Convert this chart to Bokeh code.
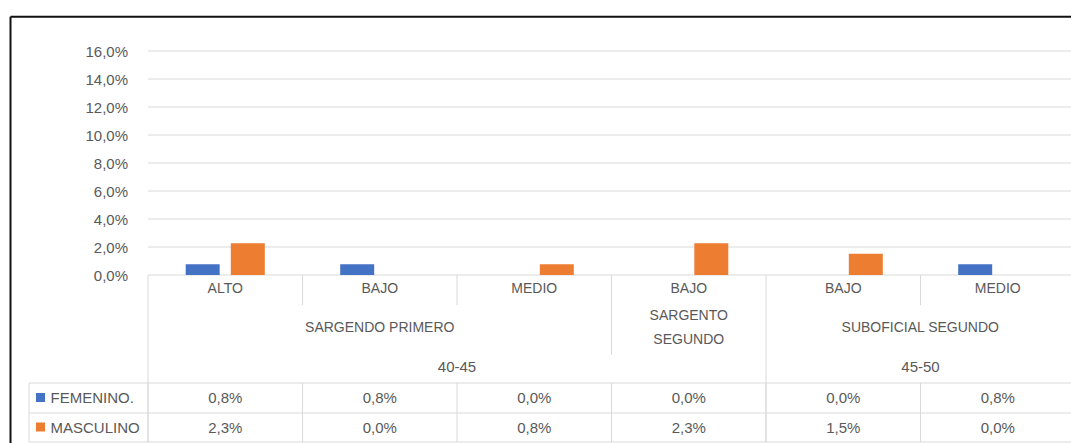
from bokeh.plotting import figure
from bokeh.models import Range1d, LinearAxis, FixedTicker, CustomJSTickFormatter
from bokeh.core.properties import value
from bokeh.embed import file_html
from bokeh.resources import INLINE

# ---------------- data ----------------
CATEGORIES = ["ALTO", "BAJO", "MEDIO", "BAJO", "BAJO", "MEDIO"]
RANKS = ["SARGENDO PRIMERO", "SARGENDO PRIMERO", "SARGENDO PRIMERO",
         "SARGENTO\nSEGUNDO", "SUBOFICIAL SEGUNDO", "SUBOFICIAL SEGUNDO"]
AGES = ["40-45", "40-45", "40-45", "40-45", "45-50", "45-50"]
SERIES = ["FEMENINO.", "MASCULINO"]
FEMENINO = [0.76, 0.76, 0.0, 0.0, 0.0, 0.76]
MASCULINO = [2.27, 0.0, 0.76, 2.27, 1.52, 0.0]
Y_TICKS = [0, 2, 4, 6, 8, 10, 12, 14, 16]
COLORS = ["#4472C4", "#ED7D31"]

# ---------------- layout constants (canvas px) ----------------
W, H = 1071, 443
X0 = 147.5      # left edge of first category
CW = 154.5      # width of one category
Y0 = 274.5      # 0 % line
PPU = 14.0      # px per 1 %
LV1_BOTTOM, LV2_BOTTOM = 304.5, 354.5
ROW_LINES = [382.5, 412.5, 441.5]
LEGEND_LEFT = 28.5
LV_Y = [287.5, 326.5, 366.5]
ROW_Y = [397.0, 426.5]

FONT = "Liberation Sans"
TXT = "#595959"
GRID = "#D9D9D9"

n = len(CATEGORIES)
idx = list(range(n))
centers = [i + 0.5 for i in idx]


def px_x(c):
    return (c - X0) / CW


p = figure(width=W, height=H,
           x_range=Range1d(px_x(0), px_x(W)),
           y_range=Range1d(-(H - Y0) / PPU, Y0 / PPU),
           output_backend="svg", toolbar_location=None,
           x_axis_location=None, y_axis_location=None,
           min_border=0, outline_line_color=None,
           background_fill_color="white", border_fill_color="white")
p.min_border_left = p.min_border_right = p.min_border_top = p.min_border_bottom = 0
p.grid.visible = False
p.extra_y_ranges = {"px": Range1d(H, 0)}
p.extra_x_ranges = {"px": Range1d(0, W)}

# gridlines
p.segment(x0=[0] * len(Y_TICKS), x1=[n + 1] * len(Y_TICKS), y0=Y_TICKS, y1=Y_TICKS,
          line_color=GRID, line_width=1)

# y axis
yaxis = LinearAxis(fixed_location=0, ticker=FixedTicker(ticks=Y_TICKS),
                   formatter=CustomJSTickFormatter(code="return tick.toFixed(1).replace('.', ',') + '%';"),
                   axis_line_color=None, major_tick_line_color=None, minor_tick_line_color=None,
                   major_tick_out=0, major_tick_in=0, major_label_standoff=20,
                   major_label_text_font=FONT, major_label_text_font_size="15px",
                   major_label_text_color=TXT)
p.add_layout(yaxis, "left")

# bars
OFF, BW = 0.146, 0.22
p.vbar(x=[c - OFF for c in centers], top=FEMENINO, width=BW, fill_color=COLORS[0], line_color=None)
p.vbar(x=[c + OFF for c in centers], top=MASCULINO, width=BW, fill_color=COLORS[1], line_color=None)

# ---------------- table structure ----------------
sx, sy0, sy1 = [], [], []
for k in range(n + 1):
    if k == 0 or k == n or AGES[k] != AGES[k - 1]:
        bottom = ROW_LINES[-1]
    elif RANKS[k] != RANKS[k - 1]:
        bottom = LV2_BOTTOM
    else:
        bottom = LV1_BOTTOM
    sx.append(k); sy0.append(Y0); sy1.append(bottom)
    sx.append(k); sy0.append(ROW_LINES[0]); sy1.append(ROW_LINES[-1])
sx.append(px_x(LEGEND_LEFT)); sy0.append(ROW_LINES[0]); sy1.append(ROW_LINES[-1])
p.segment(x0=sx, x1=sx, y0=sy0, y1=sy1, y_range_name="px", line_color=GRID, line_width=1)
p.segment(x0=[px_x(LEGEND_LEFT)] * len(ROW_LINES), x1=[n + 1] * len(ROW_LINES),
          y0=ROW_LINES, y1=ROW_LINES, y_range_name="px", line_color=GRID, line_width=1)


def runs(labels):
    out, start = [], 0
    for i in range(1, len(labels) + 1):
        if i == len(labels) or labels[i] != labels[start]:
            out.append((labels[start], (start + i) / 2))
            start = i
    return out


common = dict(y_range_name="px", text_font=value(FONT), text_color=TXT,
              text_align="center", text_baseline="middle")
p.text(x=centers, y=[LV_Y[0]] * n, text=CATEGORIES, text_font_size="14px", **common)
r2 = runs(RANKS)
p.text(x=[c for _, c in r2], y=[LV_Y[1]] * len(r2), text=[t for t, _ in r2],
       text_font_size="14px", text_line_height=1.5, **common)
r3 = runs(AGES)
p.text(x=[c for _, c in r3], y=[LV_Y[2]] * len(r3), text=[t for t, _ in r3],
       text_font_size="15px", **common)


def fmt(v):
    return ("%.1f" % v).replace(".", ",") + "%"


for row, vals in enumerate([FEMENINO, MASCULINO]):
    p.text(x=centers, y=[ROW_Y[row]] * n, text=[fmt(v) for v in vals],
           text_font_size="15px", **common)

# legend keys in the table
p.rect(x=[40, 40], y=ROW_Y, width=9, height=9, x_range_name="px", y_range_name="px",
       fill_color=COLORS, line_color=None)
p.text(x=[50, 50], y=ROW_Y, text=SERIES, x_range_name="px", y_range_name="px",
       text_font=value(FONT), text_color=TXT, text_align="left", text_baseline="middle",
       text_font_size="15px")

# outer chart border
p.segment(x0=[10, 10], x1=[10, W + 5], y0=[16.3, 16.3], y1=[H + 5, 16.3],
          x_range_name="px", y_range_name="px", line_color="#111111", line_width=2)

open("out.html", "w").write(file_html(p, INLINE))
